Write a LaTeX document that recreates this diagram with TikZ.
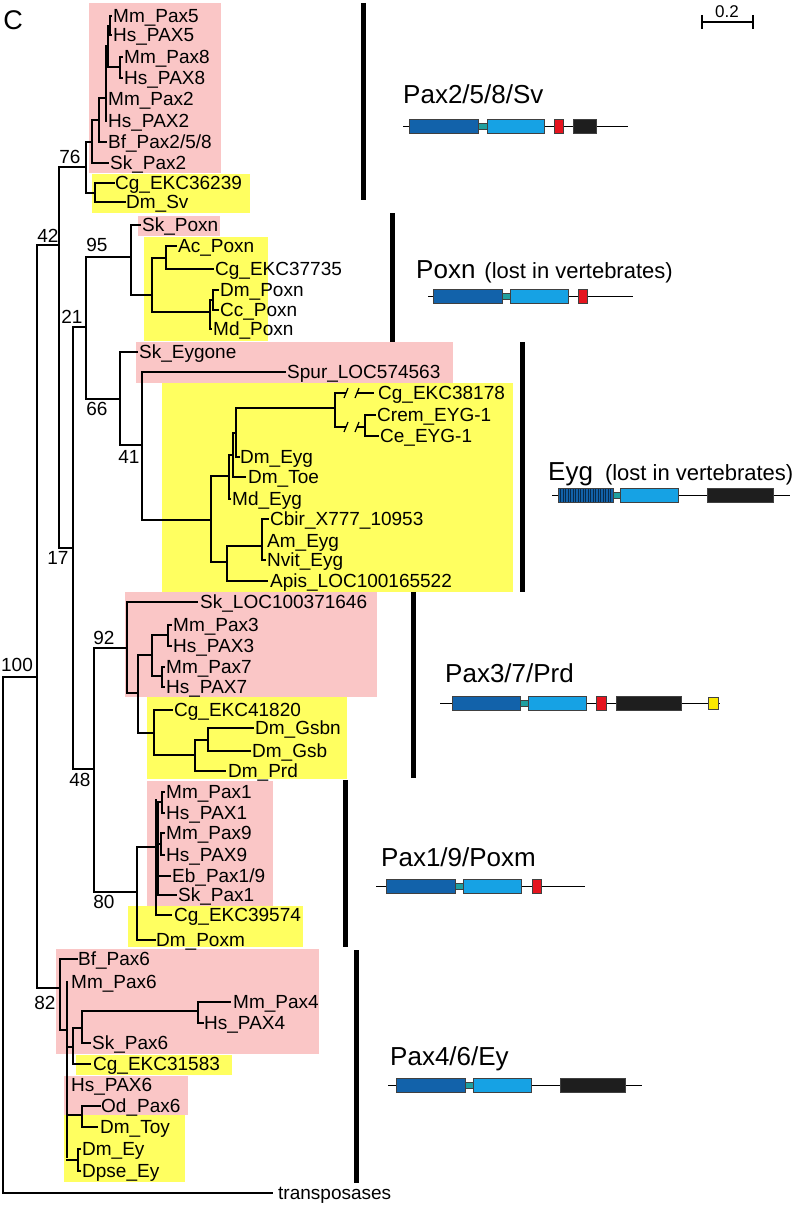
\documentclass[tikz,border=0pt]{standalone}
\usepackage{fontspec}
\setmainfont{Liberation Sans}
\definecolor{pk}{RGB}{250,198,198}
\definecolor{yl}{RGB}{255,255,96}
\definecolor{db}{RGB}{18,98,170}
\definecolor{lb}{RGB}{22,162,228}
\definecolor{tl}{RGB}{32,160,160}
\definecolor{rd}{RGB}{230,20,30}
\definecolor{bk}{RGB}{30,30,30}
\definecolor{yd}{RGB}{250,232,0}
\tikzset{
 leaf/.style={anchor=base west, inner sep=0pt, yshift=-6.5pt, font=\fontsize{19}{22}\selectfont},
 bs/.style={inner sep=0pt, font=\fontsize{19}{22}\selectfont},
 tt/.style={anchor=base west, inner sep=0pt, font=\fontsize{26}{30}\selectfont},
 br/.style={line width=1.6pt, line cap=rect},
 bar/.style={line width=5pt},
 dom/.style={draw=black!75, line width=0.5pt},
 dline/.style={line width=0.9pt},
}
\newcommand{\lostv}{\fontsize{22}{26}\selectfont(lost in vertebrates)}
\begin{document}
\begin{tikzpicture}[x=1pt,y=-1pt]
\useasboundingbox (0,0) rectangle (799,1207);
% ---------- coloured boxes
\fill[pk] (89,3) rectangle (221,173);
\fill[yl] (92,174) rectangle (250,213);
\fill[pk] (138,216) rectangle (220,236);
\fill[yl] (144,237) rectangle (268,341);
\fill[pk] (136,342) rectangle (453,383);
\fill[yl] (162,383) rectangle (513,592);
\fill[pk] (125,592) rectangle (377,697);
\fill[yl] (147,697) rectangle (347,779);
\fill[pk] (147,781) rectangle (273,906);
\fill[yl] (128,906) rectangle (303,947);
\fill[pk] (56,949) rectangle (319,1054);
\fill[yl] (76,1055) rectangle (232,1075);
\fill[pk] (64,1076) rectangle (188,1115);
\fill[yl] (64,1115) rectangle (185,1182);
% ---------- label C and scale bar
\node[inner sep=0pt, font=\fontsize{27}{30}\selectfont] (lblC) at (13,20) {C};
\coordinate (sb1) at (702,22);
\coordinate (sb2) at (753,22);
\draw[line width=1.2pt] (sb1) -- (sb2);
\draw[line width=1.2pt] (702,15) -- (702,29) (753,15) -- (753,29);
\node[inner sep=0pt, font=\fontsize{17}{19}\selectfont] (sbl) at (727,12) {0.2};
% ---------- root and backbone
\draw[br] (272,1193) -- (3,1193) -- (3,677) -- (37,677);
\draw[br] (37,245) -- (37,988);
\draw[br] (37,245) -- (59,245);
\draw[br] (59,167) -- (59,548);
\draw[br] (59,548) -- (73,548);
\draw[br] (73,327) -- (73,769);
% ---------- Pax2/5/8/Sv
\draw[br] (59,167) -- (86,167);
\draw[br] (86,142) -- (86,193);
\draw[br] (86,142) -- (92,142);
\draw[br] (92,120) -- (92,163) -- (108,163);
\draw[br] (92,120) -- (99,120);
\draw[br] (99,98) -- (99,142) -- (106,142);
\draw[br] (99,98) -- (106,98);
\draw[br] (106,46) -- (106,121);
\draw[br] (106,46) -- (108,46);
\draw[br] (108,26) -- (108,67) -- (120,67);
\draw[br] (108,26) -- (110,26);
\draw[line width=2.4pt] (110,16) -- (110,35);
\draw[br] (110,16) -- (111,16) (110,35) -- (111,35);
\draw[br] (122,57) -- (120,57) -- (120,78) -- (122,78);
\draw[br] (86,193) -- (95,193);
\draw[br] (114,183) -- (95,183) -- (95,202) -- (125,202);
\node[leaf] (mmpax5) at (113,16) {Mm\_Pax5};
\node[leaf] (hspax5) at (113,35) {Hs\_PAX5};
\node[leaf] (mmpax8) at (124,57) {Mm\_Pax8};
\node[leaf] (hspax8) at (124,78) {Hs\_PAX8};
\node[leaf] (mmpax2) at (108,99) {Mm\_Pax2};
\node[leaf] (hspax2) at (108,121) {Hs\_PAX2};
\node[leaf] (bfpax2) at (108,142) {Bf\_Pax2/5/8};
\node[leaf] (skpax2) at (110,163) {Sk\_Pax2};
\node[leaf] (cg36239) at (115,183) {Cg\_EKC36239};
\node[leaf] (dmsv) at (126,202) {Dm\_Sv};
\node[bs] (b76) at (70,157) {76};
\node[bs] (b42) at (48,236) {42};
% ---------- Poxn
\draw[br] (73,327) -- (86,327);
\draw[br] (86,257) -- (86,399);
\draw[br] (86,257) -- (131,257);
\draw[br] (140,225) -- (131,225) -- (131,295) -- (152,295);
\draw[br] (152,258) -- (152,312);
\draw[br] (152,258) -- (166,258);
\draw[br] (176,246) -- (166,246) -- (166,269) -- (213,269);
\draw[br] (152,312) -- (210,312);
\draw[br] (210,300) -- (210,329) -- (211,329);
\draw[br] (210,300) -- (213,300);
\draw[br] (218,290) -- (213,290) -- (213,310) -- (218,310);
\node[leaf] (skpoxn) at (142,225) {Sk\_Poxn};
\node[leaf] (acpoxn) at (178,246) {Ac\_Poxn};
\node[leaf] (cg37735) at (215,269) {Cg\_EKC37735};
\node[leaf] (dmpoxn) at (220,290) {Dm\_Poxn};
\node[leaf] (ccpoxn) at (220,310) {Cc\_Poxn};
\node[leaf] (mdpoxn) at (213,329) {Md\_Poxn};
\node[bs] (b95) at (97,245) {95};
\node[bs] (b21) at (72,317) {21};
% ---------- Eyg
\draw[br] (86,399) -- (120,399);
\draw[br] (137,352) -- (120,352) -- (120,445) -- (142,445);
\draw[br] (285,372) -- (142,372) -- (142,520) -- (211,520);
\draw[br] (211,476) -- (211,562);
\draw[br] (211,476) -- (229,476);
\draw[br] (229,455) -- (229,499) -- (230,499);
\draw[br] (229,455) -- (233,455);
\draw[br] (233,433) -- (233,477) -- (245,477);
\draw[br] (233,433) -- (236,433);
\draw[br] (236,408) -- (236,457) -- (239,457);
\draw[br] (236,408) -- (335,408);
\draw[br] (335,393) -- (335,427);
\draw[br] (335,393) -- (345,393);
\draw[br] (358,393) -- (373,393);
\draw[br] (335,427) -- (345,427);
\draw[br] (358,427) -- (365,427);
\draw[line width=1.2pt] (344,398) -- (348,388) (355,398) -- (359,388);
\draw[line width=1.2pt] (344,432) -- (348,422) (355,432) -- (359,422);
\draw[br] (375,415) -- (365,415) -- (365,436) -- (378,436);
\draw[br] (211,562) -- (227,562);
\draw[br] (227,546) -- (227,581) -- (267,581);
\draw[br] (227,546) -- (262,546);
\draw[line width=2.4pt] (262,528) -- (262,552);
\draw[br] (268,519) -- (262,519) -- (262,560) -- (265,560);
\node[leaf] (skeyg) at (139,352) {Sk\_Eygone};
\node[leaf] (spur) at (287,372) {Spur\_LOC574563};
\node[leaf] (cg38178) at (378,393) {Cg\_EKC38178};
\node[leaf] (crem) at (377,415) {Crem\_EYG-1};
\node[leaf] (ce) at (380,436) {Ce\_EYG-1};
\node[leaf] (dmeyg) at (240,457) {Dm\_Eyg};
\node[leaf] (dmtoe) at (248,477) {Dm\_Toe};
\node[leaf] (mdeyg) at (232,499) {Md\_Eyg};
\node[leaf] (cbir) at (270,519) {Cbir\_X777\_10953};
\node[leaf] (ameyg) at (267,541) {Am\_Eyg};
\node[leaf] (nvit) at (267,560) {Nvit\_Eyg};
\node[leaf] (apis) at (270,581) {Apis\_LOC100165522};
\node[bs] (b66) at (97,409) {66};
\node[bs] (b41) at (129,457) {41};
\node[bs] (b17) at (58,558) {17};
% ---------- Pax3/7/Prd
\draw[br] (73,769) -- (94,769);
\draw[br] (94,648) -- (94,892);
\draw[br] (94,648) -- (127,648);
\draw[br] (197,602) -- (127,602) -- (127,693) -- (138,693);
\draw[br] (138,655) -- (138,733);
\draw[br] (138,655) -- (152,655);
\draw[br] (152,635) -- (152,676) -- (162,676);
\draw[br] (152,635) -- (168,635);
\draw[br] (171,625) -- (168,625) -- (168,646) -- (171,646);
\draw[br] (164,667) -- (162,667) -- (162,687) -- (164,687);
\draw[br] (138,733) -- (154,733);
\draw[br] (172,710) -- (154,710) -- (154,755) -- (195,755);
\draw[br] (195,740) -- (195,771) -- (225,771);
\draw[br] (195,740) -- (208,740);
\draw[br] (253,728) -- (208,728) -- (208,751) -- (250,751);
\node[leaf] (sk3716) at (200,602) {Sk\_LOC100371646};
\node[leaf] (mmpax3) at (173,625) {Mm\_Pax3};
\node[leaf] (hspax3) at (173,646) {Hs\_PAX3};
\node[leaf] (mmpax7) at (166,667) {Mm\_Pax7};
\node[leaf] (hspax7) at (166,687) {Hs\_PAX7};
\node[leaf] (cg41820) at (174,710) {Cg\_EKC41820};
\node[leaf] (dmgsbn) at (255,728) {Dm\_Gsbn};
\node[leaf] (dmgsb) at (252,751) {Dm\_Gsb};
\node[leaf] (dmprd) at (228,771) {Dm\_Prd};
\node[bs] (b92) at (104,638) {92};
\node[bs] (b48) at (80,780) {48};
\node[bs] (b100) at (17,665) {100};
% ---------- Pax1/9/Poxm
\draw[br] (94,892) -- (137,892);
\draw[br] (137,847) -- (137,940) -- (155,940);
\draw[br] (137,847) -- (156,847);
\draw[br] (156,800) -- (156,915) -- (171,915);
\draw[br] (158,802) -- (158,895) -- (176,895);
\draw[br] (158,802) -- (162,802);
\draw[br] (164,792) -- (162,792) -- (162,813) -- (164,813);
\draw[br] (158,844) -- (161,844);
\draw[line width=2.4pt] (161,836) -- (161,852);
\draw[br] (164,833) -- (161,833) -- (161,855) -- (164,855);
\draw[br] (158,876) -- (170,876);
\node[leaf] (mmpax1) at (166,792) {Mm\_Pax1};
\node[leaf] (hspax1) at (166,813) {Hs\_PAX1};
\node[leaf] (mmpax9) at (166,833) {Mm\_Pax9};
\node[leaf] (hspax9) at (166,855) {Hs\_PAX9};
\node[leaf] (ebpax) at (172,876) {Eb\_Pax1/9};
\node[leaf] (skpax1) at (178,895) {Sk\_Pax1};
\node[leaf] (cg39574) at (174,915) {Cg\_EKC39574};
\node[leaf] (dmpoxm) at (156,940) {Dm\_Poxm};
\node[bs] (b80) at (104,902) {80};
% ---------- Pax4/6/Ey
\draw[br] (37,988) -- (60,988);
\draw[br] (77,959) -- (60,959) -- (60,1030) -- (67,1030);
\draw[br] (67,982) -- (67,1157);
\draw[line width=2.4pt] (67,1118) -- (67,1136);
\draw[br] (67,1047) -- (73,1047);
\draw[br] (73,1028) -- (73,1064) -- (90,1064);
\draw[br] (73,1028) -- (82,1028);
\draw[br] (82,1011) -- (82,1043) -- (90,1043);
\draw[br] (82,1011) -- (198,1011);
\draw[br] (230,1002) -- (198,1002) -- (198,1023) -- (203,1023);
\draw[br] (67,1115) -- (82,1115);
\draw[br] (100,1106) -- (82,1106) -- (82,1127) -- (97,1127);
\draw[br] (67,1160) -- (78,1160);
\draw[br] (80,1149) -- (78,1149) -- (78,1171) -- (80,1171);
\node[leaf] (bfpax6) at (78,959) {Bf\_Pax6};
\node[leaf] (mmpax6) at (71,982) {Mm\_Pax6};
\node[leaf] (mmpax4) at (233,1002) {Mm\_Pax4};
\node[leaf] (hspax4) at (204,1023) {Hs\_PAX4};
\node[leaf] (skpax6) at (92,1043) {Sk\_Pax6};
\node[leaf] (cg31583) at (93,1064) {Cg\_EKC31583};
\node[leaf] (hspax6) at (71,1085) {Hs\_PAX6};
\node[leaf] (odpax6) at (101,1106) {Od\_Pax6};
\node[leaf] (dmtoy) at (100,1127) {Dm\_Toy};
\node[leaf] (dmey) at (82,1149) {Dm\_Ey};
\node[leaf] (dpse) at (82,1171) {Dpse\_Ey};
\node[leaf] (transp) at (278,1193) {transposases};
\node[bs] (b82) at (45,1003) {82};
% ---------- group bars
\draw[bar] (363,3) -- (363,200);
\draw[bar] (392,213) -- (392,342);
\draw[bar] (522,342) -- (522,592);
\draw[bar] (413,592) -- (413,778);
\draw[bar] (345,780) -- (345,947);
\draw[bar] (356,950) -- (356,1183);
% ---------- group titles
\node[tt] (t1) at (403,103) {Pax2/5/8/Sv};
\node[tt] (t2) at (416,278) {Poxn\hspace{9pt}\lostv};
\node[tt] (t3) at (548,480) {Eyg\hspace{12pt}\lostv};
\node[tt] (t4) at (445,682) {Pax3/7/Prd};
\node[tt] (t5) at (381,866) {Pax1/9/Poxm};
\node[tt] (t6) at (390,1065) {Pax4/6/Ey};
% ---------- domain diagrams
% Pax2/5/8/Sv
\draw[dline] (403,126) -- (628,126);
\filldraw[dom, fill=db] (409,119) rectangle (478,133);
\filldraw[dom, fill=tl] (478,123) rectangle (487,129);
\filldraw[dom, fill=lb] (487,119) rectangle (544,133);
\filldraw[dom, fill=rd] (554,119) rectangle (563,133);
\filldraw[dom, fill=bk] (573,119) rectangle (596,133);
% Poxn
\draw[dline] (428,296) -- (633,296);
\filldraw[dom, fill=db] (433,289) rectangle (502,303);
\filldraw[dom, fill=tl] (502,293) rectangle (510,299);
\filldraw[dom, fill=lb] (510,289) rectangle (568,303);
\filldraw[dom, fill=rd] (578,289) rectangle (587,303);
% Eyg
\draw[dline] (552,495) -- (790,495);
\fill[db] (558,488) rectangle (613,502);
\foreach \i in {560.5,563,...,612} {\draw[db!45!black, line width=0.6pt] (\i,488) -- (\i,502);}
\draw[dom] (558,488) rectangle (613,502);
\filldraw[dom, fill=tl] (613,492) rectangle (620,498);
\filldraw[dom, fill=lb] (620,488) rectangle (678,502);
\filldraw[dom, fill=bk] (707,488) rectangle (773,502);
% Pax3/7/Prd
\draw[dline] (440,703) -- (720,703);
\filldraw[dom, fill=db] (452,696) rectangle (520,710);
\filldraw[dom, fill=tl] (520,700) rectangle (528,706);
\filldraw[dom, fill=lb] (528,696) rectangle (586,710);
\filldraw[dom, fill=rd] (596,696) rectangle (606,710);
\filldraw[dom, fill=bk] (616,696) rectangle (681,710);
\filldraw[dom, fill=yd] (708,697) rectangle (718,709);
% Pax1/9/Poxm
\draw[dline] (376,886) -- (585,886);
\filldraw[dom, fill=db] (386,879) rectangle (455,893);
\filldraw[dom, fill=tl] (455,883) rectangle (463,889);
\filldraw[dom, fill=lb] (463,879) rectangle (521,893);
\filldraw[dom, fill=rd] (532,879) rectangle (541,893);
% Pax4/6/Ey
\draw[dline] (388,1085) -- (642,1085);
\filldraw[dom, fill=db] (396,1078) rectangle (465,1092);
\filldraw[dom, fill=tl] (465,1082) rectangle (473,1088);
\filldraw[dom, fill=lb] (473,1078) rectangle (531,1092);
\filldraw[dom, fill=bk] (560,1078) rectangle (625,1092);
\end{tikzpicture}
\end{document}
